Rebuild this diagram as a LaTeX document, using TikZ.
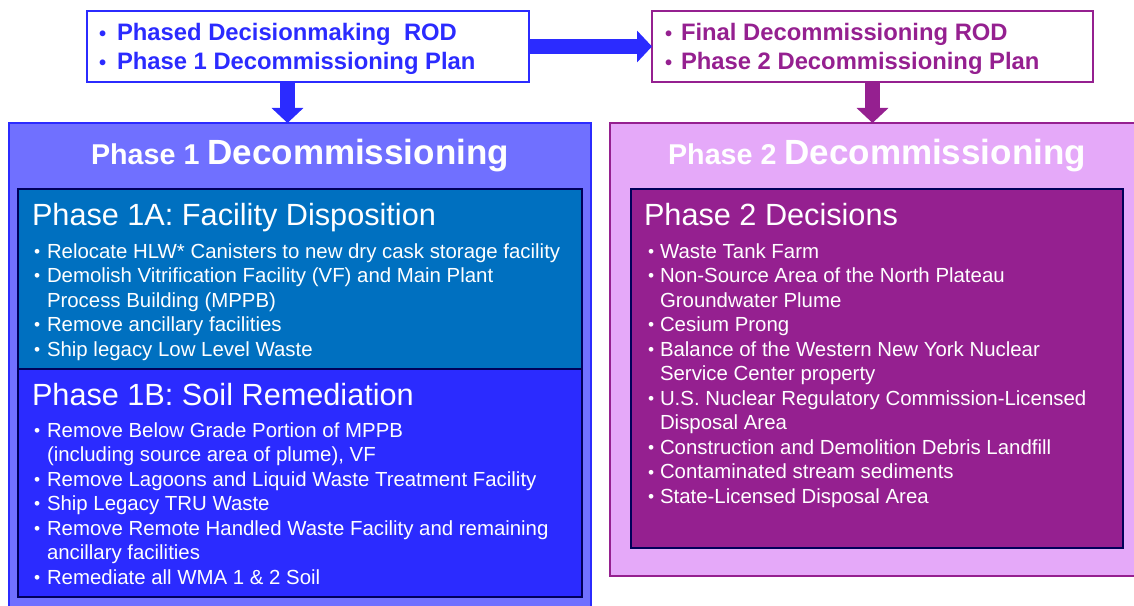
\documentclass[tikz,border=0pt]{standalone}
\usepackage{fontspec}
\setmainfont{Liberation Sans}
\usetikzlibrary{arrows.meta,calc}
\newlength{\pxu}\setlength{\pxu}{0.75pt}
\definecolor{bblue}{RGB}{43,43,255}
\definecolor{pblue}{RGB}{112,112,255}
\definecolor{ablue}{RGB}{0,112,192}
\definecolor{navy}{RGB}{0,0,90}
\definecolor{purp}{RGB}{149,32,144}
\definecolor{lilac}{RGB}{229,169,249}
\newcommand{\smb}{\raisebox{0.06ex}{\scalebox{0.85}{\textbullet}}}
\newcommand{\bi}[2][2]{\makebox[15\pxu][l]{\hspace{#1\pxu}\smb}#2}
\newcommand{\ci}[1]{\hspace*{15\pxu}#1}
\newcommand{\bj}[1]{\makebox[16\pxu][l]{\hspace{4\pxu}\smb}#1}
\newcommand{\cj}[1]{\hspace*{16\pxu}#1}
\newcommand{\bt}[2]{\makebox[#1\pxu][l]{\hspace{1\pxu}\smb}#2}
\tikzset{
  box/.style={rectangle, inner sep=0pt, outer sep=0pt, anchor=north west},
  txt/.style={inner sep=0pt, outer sep=0pt, anchor=base west, text=white},
  blist/.style={txt, font=\fontsize{15.3}{18.4}\selectfont},
  head/.style={txt, font=\fontsize{23}{27}\selectfont},
  topt/.style={inner sep=0pt, outer sep=0pt, anchor=base west, font=\bfseries\fontsize{17.85}{21.75}\selectfont},
  ttl/.style={inner sep=0pt, outer sep=0pt, anchor=base, text=white, font=\bfseries},
  blockarrow/.style={line width=11.25pt, -{Triangle[width=23.25pt,length=11.25pt]}}
}
\begin{document}
\begin{tikzpicture}[x=0.75pt,y=-0.75pt]
\useasboundingbox (0,0) rectangle (1134,606);
\clip (0,0) rectangle (1134,606);
% big boxes
\node[box, draw=bblue, line width=2.5\pxu, fill=pblue, minimum width=582\pxu, minimum height=490\pxu] (p1) at (9,123) {};
\node[box, draw=purp, line width=2.5\pxu, fill=lilac, minimum width=534\pxu, minimum height=453\pxu] (p2) at (610,123) {};
% inner boxes
\node[box, draw=navy, line width=2\pxu, fill=ablue, minimum width=564\pxu, minimum height=180\pxu] (p1a) at (18,189) {};
\node[box, draw=navy, line width=2\pxu, fill=bblue, minimum width=564\pxu, minimum height=228\pxu] (p1b) at (18,369) {};
\node[box, draw=navy, line width=2\pxu, fill=purp, minimum width=492\pxu, minimum height=359\pxu] (p2d) at (631,189) {};
% top boxes
\node[box, draw=bblue, line width=2\pxu, fill=white, minimum width=442\pxu, minimum height=71\pxu] (tl) at (87,11) {};
\node[box, draw=purp, line width=2\pxu, fill=white, minimum width=441\pxu, minimum height=71\pxu] (tr) at (652,11) {};
% top texts
\node[topt, text=bblue] (tltext) at (98,41) {\parbox[t]{420\pxu}{\raggedright
\bt{19}{Phased Decisionmaking~ ROD}\\
\bt{19}{Phase 1 Decommissioning Plan}}};
\node[topt, text=purp] (trtext) at (664,41) {\parbox[t]{420\pxu}{\raggedright
\bt{17}{Final Decommissioning ROD}\\
\bt{17}{Phase 2 Decommissioning Plan}}};
% arrows
\draw[blockarrow, bblue] (tl.east) -- (tr.west);
\coordinate (d1s) at ($(tl.south)+(-20.5,0)$);
\coordinate (d1e) at (d1s |- p1.north);
\draw[blockarrow, bblue] (d1s) -- (d1e);
\coordinate (d2e) at (tr.south |- p2.north);
\draw[blockarrow, purp] (tr.south) -- (d2e);
% titles
\node[ttl] (t1) at (300,165) {{\fontsize{21.5}{25}\selectfont Phase 1 }{\fontsize{26.25}{30}\selectfont Decommissioning}};
\node[ttl] (t2) at (877,165) {{\fontsize{21.5}{25}\selectfont Phase 2 }{\fontsize{26.25}{30}\selectfont Decommissioning}};
% headings
\node[head] (h1a) at (32,225) {Phase 1A: Facility Disposition};
\node[head] (h1b) at (32,405) {Phase 1B: Soil Remediation};
\node[head] (h2) at (644,225) {Phase 2 Decisions};
% lists
\node[blist] (l1a) at (32,258) {\parbox[t]{560\pxu}{\raggedright
\bi{Relocate HLW* Canisters to new dry cask storage facility}\\
\bi{Demolish Vitrification Facility (VF) and Main Plant}\\
\ci{Process Building (MPPB)}\\
\bi{Remove ancillary facilities}\\
\bi{Ship legacy Low Level Waste}}};
\node[blist] (l1b) at (32,437) {\parbox[t]{560\pxu}{\raggedright
\bi{Remove Below Grade Portion of MPPB}\\
\ci{(including source area of plume), VF}\\
\bi{Remove Lagoons and Liquid Waste Treatment Facility}\\
\bi{Ship Legacy TRU Waste}\\
\bi{Remove Remote Handled Waste Facility and remaining}\\
\ci{ancillary facilities}\\
\bi{Remediate all WMA 1 \& 2 Soil}}};
\node[blist] (l2) at (644,258) {\parbox[t]{480\pxu}{\raggedright
\bj{Waste Tank Farm}\\
\bj{Non-Source Area of the North Plateau}\\
\cj{Groundwater Plume}\\
\bj{Cesium Prong}\\
\bj{Balance of the Western New York Nuclear}\\
\cj{Service Center property}\\
\bj{U.S. Nuclear Regulatory Commission-Licensed}\\
\cj{Disposal Area}\\
\bj{Construction and Demolition Debris Landfill}\\
\bj{Contaminated stream sediments}\\
\bj{State-Licensed Disposal Area}}};
\end{tikzpicture}
\end{document}
